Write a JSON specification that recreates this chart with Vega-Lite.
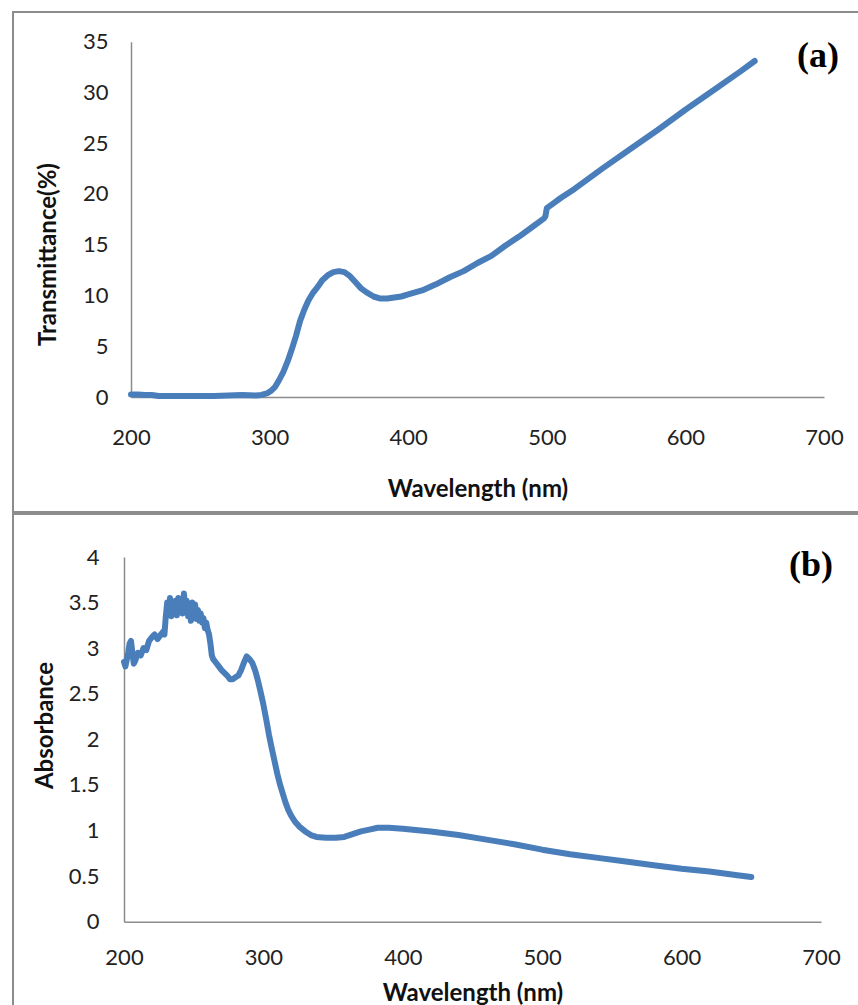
{
  "$schema": "https://vega.github.io/schema/vega-lite/v6.json",
  "padding": {"left": 12, "top": 11, "right": 0, "bottom": 0},
  "background": "white",
  "spacing": 0,
  "config": {
    "view": {"stroke": "#8c8c8c", "strokeWidth": 2},
    "axis": {
      "grid": false,
      "ticks": false,
      "tickSize": 0,
      "labelFlush": false,
      "labelOverlap": false,
      "domainColor": "#8c8c8c",
      "domainWidth": 1.5,
      "labelFont": "Lato",
      "labelFontSize": 22,
      "labelColor": "#222222",
      "titleFont": "Lato",
      "titleFontSize": 24,
      "titleFontWeight": "bold",
      "titleColor": "#111111"
    }
  },
  "datasets": {
    "trans": [
      {"wl": 200, "T": 0.25}, {"wl": 205, "T": 0.25}, {"wl": 210, "T": 0.2}, {"wl": 215, "T": 0.2},
      {"wl": 220, "T": 0.1}, {"wl": 230, "T": 0.1}, {"wl": 240, "T": 0.1}, {"wl": 250, "T": 0.1},
      {"wl": 260, "T": 0.1}, {"wl": 270, "T": 0.15}, {"wl": 280, "T": 0.2}, {"wl": 290, "T": 0.15},
      {"wl": 294, "T": 0.2}, {"wl": 298, "T": 0.35}, {"wl": 301, "T": 0.6}, {"wl": 304, "T": 1.0},
      {"wl": 307, "T": 1.7}, {"wl": 310, "T": 2.5}, {"wl": 313, "T": 3.5}, {"wl": 316, "T": 4.7},
      {"wl": 319, "T": 6.0}, {"wl": 322, "T": 7.5}, {"wl": 325, "T": 8.6}, {"wl": 328, "T": 9.5},
      {"wl": 331, "T": 10.2}, {"wl": 335, "T": 10.9}, {"wl": 338, "T": 11.5}, {"wl": 342, "T": 12.0},
      {"wl": 346, "T": 12.3}, {"wl": 350, "T": 12.4}, {"wl": 354, "T": 12.3}, {"wl": 358, "T": 11.9},
      {"wl": 362, "T": 11.3}, {"wl": 366, "T": 10.7}, {"wl": 370, "T": 10.3}, {"wl": 375, "T": 9.9},
      {"wl": 380, "T": 9.7}, {"wl": 385, "T": 9.7}, {"wl": 390, "T": 9.8}, {"wl": 395, "T": 9.9},
      {"wl": 400, "T": 10.1}, {"wl": 410, "T": 10.5}, {"wl": 420, "T": 11.1}, {"wl": 430, "T": 11.8},
      {"wl": 440, "T": 12.4}, {"wl": 450, "T": 13.2}, {"wl": 460, "T": 13.9}, {"wl": 470, "T": 14.9},
      {"wl": 480, "T": 15.8}, {"wl": 490, "T": 16.8}, {"wl": 498, "T": 17.6}, {"wl": 499, "T": 17.8},
      {"wl": 500, "T": 18.6}, {"wl": 505, "T": 19.1}, {"wl": 510, "T": 19.6}, {"wl": 520, "T": 20.5},
      {"wl": 540, "T": 22.5}, {"wl": 560, "T": 24.4}, {"wl": 580, "T": 26.3}, {"wl": 600, "T": 28.3},
      {"wl": 620, "T": 30.2}, {"wl": 640, "T": 32.1}, {"wl": 650, "T": 33.1}
    ],
    "abs": [
      {"wl": 200, "A": 2.85}, {"wl": 201, "A": 2.8}, {"wl": 203, "A": 2.95}, {"wl": 204, "A": 3.05},
      {"wl": 205, "A": 3.08}, {"wl": 206, "A": 2.95}, {"wl": 207, "A": 2.83}, {"wl": 208, "A": 2.86},
      {"wl": 210, "A": 2.95}, {"wl": 212, "A": 2.92}, {"wl": 214, "A": 3.0}, {"wl": 216, "A": 2.98},
      {"wl": 218, "A": 3.08}, {"wl": 220, "A": 3.12}, {"wl": 222, "A": 3.15}, {"wl": 224, "A": 3.1},
      {"wl": 226, "A": 3.14}, {"wl": 228, "A": 3.18}, {"wl": 229, "A": 3.15}, {"wl": 230, "A": 3.35},
      {"wl": 231, "A": 3.5}, {"wl": 232, "A": 3.4}, {"wl": 233, "A": 3.55}, {"wl": 234, "A": 3.35},
      {"wl": 235, "A": 3.5}, {"wl": 236, "A": 3.38}, {"wl": 237, "A": 3.52}, {"wl": 238, "A": 3.36},
      {"wl": 239, "A": 3.55}, {"wl": 240, "A": 3.4}, {"wl": 241, "A": 3.54}, {"wl": 242, "A": 3.38},
      {"wl": 243, "A": 3.6}, {"wl": 244, "A": 3.42}, {"wl": 245, "A": 3.52}, {"wl": 246, "A": 3.35},
      {"wl": 247, "A": 3.45}, {"wl": 248, "A": 3.3}, {"wl": 249, "A": 3.5}, {"wl": 250, "A": 3.38},
      {"wl": 251, "A": 3.48}, {"wl": 252, "A": 3.32}, {"wl": 253, "A": 3.42}, {"wl": 254, "A": 3.3},
      {"wl": 255, "A": 3.38}, {"wl": 256, "A": 3.28}, {"wl": 257, "A": 3.33}, {"wl": 258, "A": 3.22},
      {"wl": 259, "A": 3.28}, {"wl": 260, "A": 3.2}, {"wl": 261, "A": 3.15}, {"wl": 262, "A": 3.05},
      {"wl": 263, "A": 2.92}, {"wl": 264, "A": 2.88}, {"wl": 266, "A": 2.84}, {"wl": 268, "A": 2.8},
      {"wl": 270, "A": 2.76}, {"wl": 272, "A": 2.73}, {"wl": 274, "A": 2.7}, {"wl": 276, "A": 2.66},
      {"wl": 278, "A": 2.66}, {"wl": 280, "A": 2.68}, {"wl": 282, "A": 2.7}, {"wl": 284, "A": 2.76},
      {"wl": 286, "A": 2.84}, {"wl": 288, "A": 2.91}, {"wl": 290, "A": 2.88}, {"wl": 292, "A": 2.84},
      {"wl": 294, "A": 2.76}, {"wl": 296, "A": 2.65}, {"wl": 298, "A": 2.52}, {"wl": 300, "A": 2.38},
      {"wl": 302, "A": 2.22}, {"wl": 304, "A": 2.05}, {"wl": 306, "A": 1.9}, {"wl": 308, "A": 1.76},
      {"wl": 310, "A": 1.62}, {"wl": 312, "A": 1.5}, {"wl": 314, "A": 1.4}, {"wl": 316, "A": 1.3},
      {"wl": 318, "A": 1.22}, {"wl": 320, "A": 1.16}, {"wl": 323, "A": 1.09}, {"wl": 326, "A": 1.04},
      {"wl": 330, "A": 0.99}, {"wl": 334, "A": 0.95}, {"wl": 338, "A": 0.93}, {"wl": 345, "A": 0.92},
      {"wl": 352, "A": 0.92}, {"wl": 358, "A": 0.93}, {"wl": 364, "A": 0.96}, {"wl": 370, "A": 0.99},
      {"wl": 376, "A": 1.01}, {"wl": 382, "A": 1.03}, {"wl": 390, "A": 1.03}, {"wl": 400, "A": 1.02},
      {"wl": 420, "A": 0.99}, {"wl": 440, "A": 0.95}, {"wl": 460, "A": 0.9}, {"wl": 480, "A": 0.85},
      {"wl": 500, "A": 0.79}, {"wl": 520, "A": 0.74}, {"wl": 540, "A": 0.7}, {"wl": 560, "A": 0.66},
      {"wl": 580, "A": 0.62}, {"wl": 600, "A": 0.58}, {"wl": 620, "A": 0.55}, {"wl": 640, "A": 0.51},
      {"wl": 650, "A": 0.49}
    ]
  },
  "vconcat": [
    {
      "width": 850,
      "height": 500,
      "data": {"name": "trans"},
      "title": {
        "text": "(a)",
        "font": "Liberation Serif",
        "fontSize": 36,
        "fontWeight": "bold",
        "color": "#000000",
        "anchor": "end",
        "frame": "group",
        "orient": "top",
        "baseline": "top",
        "offset": -28,
        "dx": -24,
        "dy": 35
      },
      "mark": {"type": "line", "color": "#4a7ebb", "strokeWidth": 6, "strokeCap": "round", "strokeJoin": "round"},
      "encoding": {
        "x": {
          "field": "wl", "type": "quantitative",
          "scale": {"domain": [200, 700], "range": [118, 811], "nice": false},
          "axis": {"title": "Wavelength (nm)", "values": [200, 300, 400, 500, 600, 700], "offset": -115, "labelPadding": 30, "titlePadding": 29}
        },
        "y": {
          "field": "T", "type": "quantitative",
          "scale": {"domain": [0, 35], "range": [385, 29.7], "nice": false, "zero": true},
          "axis": {"title": "Transmittance(%)", "values": [0, 5, 10, 15, 20, 25, 30, 35], "offset": -118, "labelPadding": 23, "titlePadding": 22, "titleY": 242}
        }
      }
    },
    {
      "width": 850,
      "height": 500,
      "data": {"name": "abs"},
      "title": {
        "text": "(b)",
        "font": "Liberation Serif",
        "fontSize": 36,
        "fontWeight": "bold",
        "color": "#000000",
        "anchor": "end",
        "frame": "group",
        "orient": "top",
        "baseline": "top",
        "offset": -36,
        "dx": -30,
        "dy": 34
      },
      "mark": {"type": "line", "color": "#4a7ebb", "strokeWidth": 6, "strokeCap": "round", "strokeJoin": "round"},
      "encoding": {
        "x": {
          "field": "wl", "type": "quantitative",
          "scale": {"domain": [200, 700], "range": [111, 808], "nice": false},
          "axis": {"title": "Wavelength (nm)", "values": [200, 300, 400, 500, 600, 700], "offset": -92.3, "labelPadding": 26, "titlePadding": 13}
        },
        "y": {
          "field": "A", "type": "quantitative",
          "scale": {"domain": [0, 4], "range": [407.7, 43], "nice": false},
          "axis": {"title": "Absorbance", "format": "~g", "values": [0, 0.5, 1, 1.5, 2, 2.5, 3, 3.5, 4], "offset": -111, "labelPadding": 25, "titlePadding": 11, "titleY": 211}
        }
      }
    }
  ]
}
